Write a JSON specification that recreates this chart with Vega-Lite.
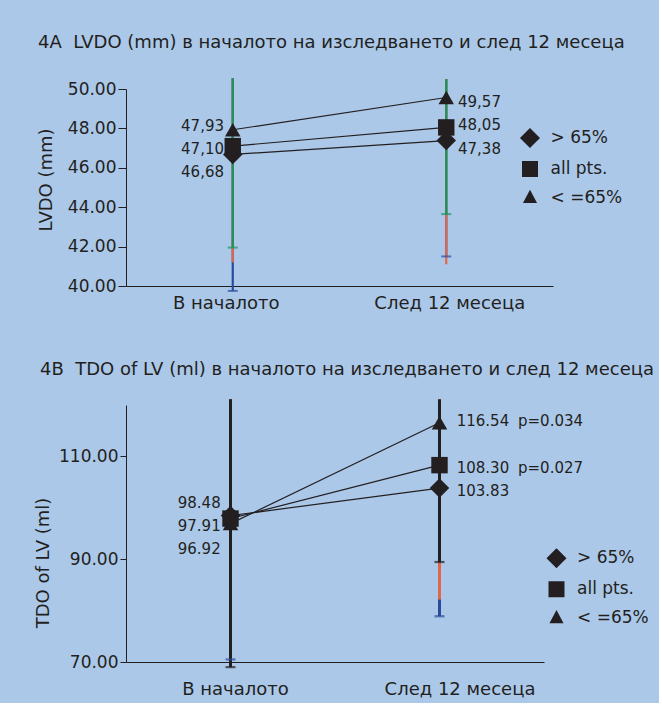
{
  "$schema": "https://vega.github.io/schema/vega-lite/v6.json",
  "background": "#abc8e9",
  "padding": {"left": 34, "top": 34, "right": 5, "bottom": 5},
  "spacing": 48,
  "resolve": {"scale": {"color": "independent", "shape": "independent"}, "legend": {"color": "independent", "shape": "independent"}},
  "config": {
    "font": "DejaVu Sans",
    "view": {"stroke": null},
    "legend": {"labelFont": "DejaVu Sans", "labelFontSize": 17, "labelColor": "#231f20", "symbolSize": 900, "symbolStrokeWidth": 1},
    "axis": {"domainColor": "#231f20", "labelColor": "#231f20", "titleColor": "#231f20", "tickColor": "#231f20", "labelFont": "DejaVu Sans", "titleFont": "DejaVu Sans", "grid": false, "titleFontWeight": "normal", "labelOverlap": false},
    "title": {"font": "DejaVu Sans", "fontWeight": "normal", "color": "#231f20", "fontSize": 18},
    "text": {"font": "DejaVu Sans", "fontSize": 15, "color": "#231f20", "baseline": "middle"}
  },
  "datasets": {
    "pointsA": [
      {"time": "В началото", "group": "> 65%", "value": 46.68, "label": "46,68"},
      {"time": "В началото", "group": "all pts.", "value": 47.10, "label": "47,10"},
      {"time": "В началото", "group": "< =65%", "value": 47.93, "label": "47,93"},
      {"time": "След 12 месеца", "group": "> 65%", "value": 47.38, "label": "47,38"},
      {"time": "След 12 месеца", "group": "all pts.", "value": 48.05, "label": "48,05"},
      {"time": "След 12 месеца", "group": "< =65%", "value": 49.57, "label": "49,57"}
    ],
    "barsA": [
      {"time": "В началото", "group": "< =65%", "lo": 39.75, "hi": 50.55},
      {"time": "В началото", "group": "all pts.", "lo": 41.2, "hi": 50.55},
      {"time": "В началото", "group": "> 65%", "lo": 41.95, "hi": 50.55},
      {"time": "След 12 месеца", "group": "< =65%", "lo": 41.5, "hi": 50.5},
      {"time": "След 12 месеца", "group": "all pts.", "lo": 41.1, "hi": 50.5},
      {"time": "След 12 месеца", "group": "> 65%", "lo": 43.65, "hi": 50.5}
    ],
    "pointsB": [
      {"time": "В началото", "group": "> 65%", "value": 98.48, "label": "98.48"},
      {"time": "В началото", "group": "all pts.", "value": 97.91, "label": "97.91"},
      {"time": "В началото", "group": "< =65%", "value": 96.92, "label": "96.92"},
      {"time": "След 12 месеца", "group": "> 65%", "value": 103.83, "label": "103.83"},
      {"time": "След 12 месеца", "group": "all pts.", "value": 108.30, "label": "108.30", "p": "p=0.027"},
      {"time": "След 12 месеца", "group": "< =65%", "value": 116.54, "label": "116.54", "p": "p=0.034"}
    ],
    "barsB": [
      {"time": "В началото", "group": "< =65%", "lo": 70.5, "hi": 121.1},
      {"time": "В началото", "group": "all pts.", "lo": 70.0, "hi": 121.1},
      {"time": "В началото", "group": "> 65%", "lo": 69.0, "hi": 121.1},
      {"time": "След 12 месеца", "group": "< =65%", "lo": 78.9, "hi": 121.1},
      {"time": "След 12 месеца", "group": "all pts.", "lo": 82.15, "hi": 121.1},
      {"time": "След 12 месеца", "group": "> 65%", "lo": 89.45, "hi": 121.1}
    ]
  },
  "vconcat": [
    {
      "width": 427,
      "height": 197,
      "title": {"text": "4A\u00a0 LVDO (mm) в началото на изследването и след 12 месеца", "anchor": "start", "frame": "group", "dx": -88, "offset": 25},
      "encoding": {
        "x": {"field": "time", "type": "nominal", "sort": null,
          "scale": {"type": "point", "padding": 0.5, "domain": ["В началото", "След 12 месеца"]},
          "axis": {"title": null, "ticks": false, "labelAngle": 0, "labelFontSize": 18, "labelPadding": 8,
            "labelOffset": {"condition": {"test": "datum.value === 'В началото'", "value": -7}, "value": 3}}}
      },
      "layer": [
        {
          "data": {"name": "barsA"},
          "mark": {"type": "rule", "strokeWidth": 2.2},
          "encoding": {
            "y": {"field": "lo", "type": "quantitative", "title": "LVDO (mm)",
              "scale": {"domain": [40, 50], "nice": false, "zero": false},
              "axis": {"values": [40, 42, 44, 46, 48, 50], "tickCount": 10, "format": ".2f", "tickSize": 8, "labelPadding": 2, "labelFontSize": 17, "titleFontSize": 18, "titleX": -79.3, "titleY": 90.5, "titleAngle": -90, "titleBaseline": "middle", "titleAlign": "center", "labelOverlap": false}},
            "y2": {"field": "hi"},
            "color": {"field": "group", "type": "nominal", "legend": null,
              "scale": {"domain": ["< =65%", "all pts.", "> 65%"], "range": ["#2a4b9b", "#e2674a", "#17955b"]}}
          }
        },
        {
          "data": {"name": "barsA"},
          "transform": [{"filter": "datum.group !== 'all pts.'"}],
          "mark": {"type": "tick", "orient": "horizontal", "size": 10, "thickness": 2},
          "encoding": {
            "y": {"field": "lo", "type": "quantitative", "title": "LVDO (mm)"},
            "color": {"field": "group", "type": "nominal", "legend": null}
          }
        },
        {
          "data": {"name": "pointsA"},
          "mark": {"type": "line", "color": "#231f20", "strokeWidth": 1.2},
          "encoding": {
            "y": {"field": "value", "type": "quantitative", "title": "LVDO (mm)"},
            "detail": {"field": "group"}
          }
        },
        {
          "data": {"name": "pointsA"},
          "transform": [{"filter": "datum.time === 'В началото' && datum.group === '< =65%'"}],
          "mark": {"type": "text", "align": "right", "dx": -8.75, "dy": -3.5},
          "encoding": {"y": {"field": "value", "type": "quantitative", "title": "LVDO (mm)"}, "text": {"field": "label"}}
        },
        {
          "data": {"name": "pointsA"},
          "transform": [{"filter": "datum.time === 'В началото' && datum.group === 'all pts.'"}],
          "mark": {"type": "text", "align": "right", "dx": -8.75, "dy": 3.2},
          "encoding": {"y": {"field": "value", "type": "quantitative", "title": "LVDO (mm)"}, "text": {"field": "label"}}
        },
        {
          "data": {"name": "pointsA"},
          "transform": [{"filter": "datum.time === 'В началото' && datum.group === '> 65%'"}],
          "mark": {"type": "text", "align": "right", "dx": -8.75, "dy": 17.4},
          "encoding": {"y": {"field": "value", "type": "quantitative", "title": "LVDO (mm)"}, "text": {"field": "label"}}
        },
        {
          "data": {"name": "pointsA"},
          "transform": [{"filter": "datum.time === 'След 12 месеца' && datum.group === '< =65%'"}],
          "mark": {"type": "text", "align": "left", "dx": 11.75, "dy": 4.3},
          "encoding": {"y": {"field": "value", "type": "quantitative", "title": "LVDO (mm)"}, "text": {"field": "label"}}
        },
        {
          "data": {"name": "pointsA"},
          "transform": [{"filter": "datum.time === 'След 12 месеца' && datum.group === 'all pts.'"}],
          "mark": {"type": "text", "align": "left", "dx": 11.75, "dy": -2.9},
          "encoding": {"y": {"field": "value", "type": "quantitative", "title": "LVDO (mm)"}, "text": {"field": "label"}}
        },
        {
          "data": {"name": "pointsA"},
          "transform": [{"filter": "datum.time === 'След 12 месеца' && datum.group === '> 65%'"}],
          "mark": {"type": "text", "align": "left", "dx": 11.75, "dy": 7.9},
          "encoding": {"y": {"field": "value", "type": "quantitative", "title": "LVDO (mm)"}, "text": {"field": "label"}}
        },
        {
          "data": {"name": "pointsA"},
          "mark": {"type": "point", "filled": true, "color": "#231f20", "opacity": 1, "size": 30},
          "encoding": {
            "y": {"field": "value", "type": "quantitative", "title": "LVDO (mm)"},
            "shape": {"field": "group", "type": "nominal",
              "scale": {"domain": ["> 65%", "all pts.", "< =65%"], "range": ["M-1,0L1,0M0,-0.667L0.667,0L0,0.667L-0.667,0Z", "M-1,0L1,0M-0.533,-0.533L0.533,-0.533L0.533,0.533L-0.533,0.533Z", "M-1,0L1,0M0,-0.55L0.47,0.33L-0.47,0.33Z"]},
              "legend": {"orient": "none", "legendX": 388.5, "legendY": 33.5, "title": null, "padding": 0, "rowPadding": 3, "labelOffset": 5, "symbolSize": 900, "symbolFillColor": "#231f20", "symbolStrokeColor": "#231f20", "symbolStrokeWidth": 1, "symbolOpacity": 1, "labelFont": "DejaVu Sans", "labelFontSize": 17, "labelColor": "#231f20"}}
          }
        },
        {
          "data": {"name": "pointsA"},
          "transform": [{"filter": "datum.group === '> 65%'"}],
          "mark": {"type": "point", "shape": "diamond", "size": 380, "filled": true, "color": "#231f20", "opacity": 1},
          "encoding": {"y": {"field": "value", "type": "quantitative", "title": "LVDO (mm)"}}
        },
        {
          "data": {"name": "pointsA"},
          "transform": [{"filter": "datum.group === 'all pts.'"}],
          "mark": {"type": "point", "shape": "square", "size": 270, "filled": true, "color": "#231f20", "opacity": 1},
          "encoding": {"y": {"field": "value", "type": "quantitative", "title": "LVDO (mm)"}}
        },
        {
          "data": {"name": "pointsA"},
          "transform": [{"filter": "datum.group === '< =65%'"}],
          "mark": {"type": "point", "shape": "triangle-up", "size": 240, "filled": true, "color": "#231f20", "opacity": 1},
          "encoding": {"y": {"field": "value", "type": "quantitative", "title": "LVDO (mm)"}}
        }
      ]
    },
    {
      "width": 418,
      "height": 257,
      "title": {"text": "4B\u00a0 TDO of LV (ml) в началото на изследването и след 12 месеца", "anchor": "start", "frame": "group", "dx": -86, "offset": 19},
      "encoding": {
        "x": {"field": "time", "type": "nominal", "sort": null,
          "scale": {"type": "point", "padding": 0.5, "domain": ["В началото", "След 12 месеца"]},
          "axis": {"title": null, "ticks": false, "labelAngle": 0, "labelFontSize": 18, "labelPadding": 18,
            "labelOffset": {"condition": {"test": "datum.value === 'В началото'", "value": 4.5}, "value": 20}}}
      },
      "layer": [
        {
          "data": {"name": "barsB"},
          "mark": {"type": "rule", "strokeWidth": 3},
          "encoding": {
            "y": {"field": "lo", "type": "quantitative", "title": "TDO of LV (ml)",
              "scale": {"domain": [70, 120], "nice": false, "zero": false},
              "axis": {"values": [70, 90, 110], "tickCount": 10, "format": ".2f", "tickSize": 6, "labelPadding": 2, "labelFontSize": 17, "titleFontSize": 18, "titleX": -83, "titleY": 157.5, "titleAngle": -90, "titleBaseline": "middle", "titleAlign": "center", "labelOverlap": false}},
            "y2": {"field": "hi"},
            "color": {"field": "group", "type": "nominal", "legend": null,
              "scale": {"domain": ["< =65%", "all pts.", "> 65%"], "range": ["#2a4b9b", "#e2674a", "#231f20"]}}
          }
        },
        {
          "data": {"name": "barsB"},
          "transform": [{"filter": "datum.group !== 'all pts.'"}],
          "mark": {"type": "tick", "orient": "horizontal", "size": 10, "thickness": 2.2},
          "encoding": {
            "y": {"field": "lo", "type": "quantitative", "title": "TDO of LV (ml)"},
            "color": {"field": "group", "type": "nominal", "legend": null}
          }
        },
        {
          "data": {"name": "pointsB"},
          "mark": {"type": "line", "color": "#231f20", "strokeWidth": 1.2},
          "encoding": {
            "y": {"field": "value", "type": "quantitative", "title": "TDO of LV (ml)"},
            "detail": {"field": "group"}
          }
        },
        {
          "data": {"name": "pointsB"},
          "transform": [{"filter": "datum.time === 'В началото' && datum.group === '> 65%'"}],
          "mark": {"type": "text", "align": "right", "dx": -9.8, "dy": -13},
          "encoding": {"y": {"field": "value", "type": "quantitative", "title": "TDO of LV (ml)"}, "text": {"field": "label"}}
        },
        {
          "data": {"name": "pointsB"},
          "transform": [{"filter": "datum.time === 'В началото' && datum.group === 'all pts.'"}],
          "mark": {"type": "text", "align": "right", "dx": -9.8, "dy": 7.4},
          "encoding": {"y": {"field": "value", "type": "quantitative", "title": "TDO of LV (ml)"}, "text": {"field": "label"}}
        },
        {
          "data": {"name": "pointsB"},
          "transform": [{"filter": "datum.time === 'В началото' && datum.group === '< =65%'"}],
          "mark": {"type": "text", "align": "right", "dx": -9.8, "dy": 25.5},
          "encoding": {"y": {"field": "value", "type": "quantitative", "title": "TDO of LV (ml)"}, "text": {"field": "label"}}
        },
        {
          "data": {"name": "pointsB"},
          "transform": [{"filter": "datum.time === 'След 12 месеца' && datum.group === '< =65%'"}],
          "mark": {"type": "text", "align": "left", "dx": 17.2, "dy": -2},
          "encoding": {"y": {"field": "value", "type": "quantitative", "title": "TDO of LV (ml)"}, "text": {"field": "label"}}
        },
        {
          "data": {"name": "pointsB"},
          "transform": [{"filter": "datum.time === 'След 12 месеца' && datum.group === 'all pts.'"}],
          "mark": {"type": "text", "align": "left", "dx": 17.2, "dy": 2.4},
          "encoding": {"y": {"field": "value", "type": "quantitative", "title": "TDO of LV (ml)"}, "text": {"field": "label"}}
        },
        {
          "data": {"name": "pointsB"},
          "transform": [{"filter": "datum.time === 'След 12 месеца' && datum.group === '> 65%'"}],
          "mark": {"type": "text", "align": "left", "dx": 17.2, "dy": 2.8},
          "encoding": {"y": {"field": "value", "type": "quantitative", "title": "TDO of LV (ml)"}, "text": {"field": "label"}}
        },
        {
          "data": {"name": "pointsB"},
          "transform": [{"filter": "datum.group === '< =65%' && datum.p"}],
          "mark": {"type": "text", "align": "left", "dx": 78.5, "dy": -2},
          "encoding": {"y": {"field": "value", "type": "quantitative", "title": "TDO of LV (ml)"}, "text": {"field": "p"}}
        },
        {
          "data": {"name": "pointsB"},
          "transform": [{"filter": "datum.group === 'all pts.' && datum.p"}],
          "mark": {"type": "text", "align": "left", "dx": 78.5, "dy": 2.4},
          "encoding": {"y": {"field": "value", "type": "quantitative", "title": "TDO of LV (ml)"}, "text": {"field": "p"}}
        },
        {
          "data": {"name": "pointsB"},
          "mark": {"type": "point", "filled": true, "color": "#231f20", "opacity": 1, "size": 30},
          "encoding": {
            "y": {"field": "value", "type": "quantitative", "title": "TDO of LV (ml)"},
            "shape": {"field": "group", "type": "nominal",
              "scale": {"domain": ["> 65%", "all pts.", "< =65%"], "range": ["M-1,0L1,0M0,-0.667L0.667,0L0,0.667L-0.667,0Z", "M-1,0L1,0M-0.533,-0.533L0.533,-0.533L0.533,0.533L-0.533,0.533Z", "M-1,0L1,0M0,-0.55L0.47,0.33L-0.47,0.33Z"]},
              "legend": {"orient": "none", "legendX": 415, "legendY": 137.8, "title": null, "padding": 0, "rowPadding": 3, "labelOffset": 5, "symbolSize": 900, "symbolFillColor": "#231f20", "symbolStrokeColor": "#231f20", "symbolStrokeWidth": 1, "symbolOpacity": 1, "labelFont": "DejaVu Sans", "labelFontSize": 17, "labelColor": "#231f20"}}
          }
        },
        {
          "data": {"name": "pointsB"},
          "transform": [{"filter": "datum.group === '> 65%'"}],
          "mark": {"type": "point", "shape": "diamond", "size": 380, "filled": true, "color": "#231f20", "opacity": 1},
          "encoding": {"y": {"field": "value", "type": "quantitative", "title": "TDO of LV (ml)"}}
        },
        {
          "data": {"name": "pointsB"},
          "transform": [{"filter": "datum.group === 'all pts.'"}],
          "mark": {"type": "point", "shape": "square", "size": 270, "filled": true, "color": "#231f20", "opacity": 1},
          "encoding": {"y": {"field": "value", "type": "quantitative", "title": "TDO of LV (ml)"}}
        },
        {
          "data": {"name": "pointsB"},
          "transform": [{"filter": "datum.group === '< =65%'"}],
          "mark": {"type": "point", "shape": "triangle-up", "size": 240, "filled": true, "color": "#231f20", "opacity": 1},
          "encoding": {"y": {"field": "value", "type": "quantitative", "title": "TDO of LV (ml)"}}
        }
      ]
    }
  ]
}
